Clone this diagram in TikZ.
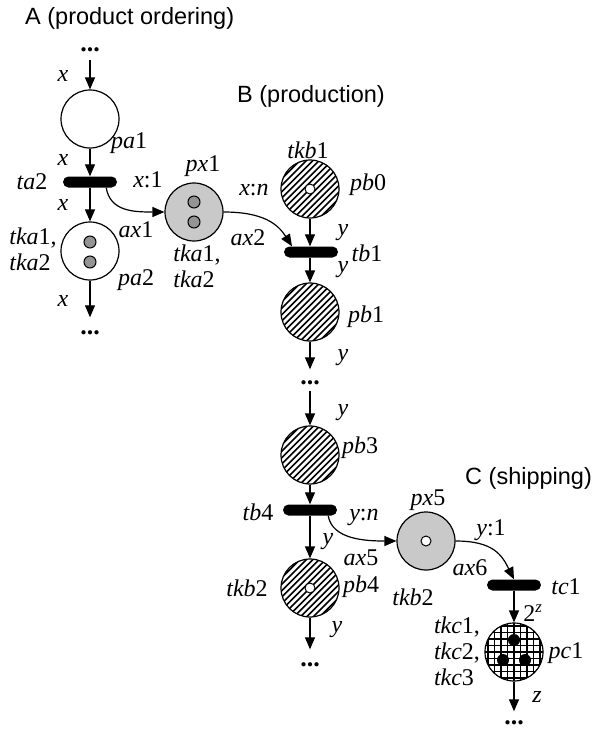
\documentclass[tikz,border=0pt]{standalone}
\usepackage{fontspec}
\setmainfont{Liberation Serif}
\newfontfamily\titlefont{Liberation Sans}
\usetikzlibrary{arrows.meta}
\newcommand{\iv}[1]{\textit{#1}}
\definecolor{placegray}{gray}{0.79}
\definecolor{tokengray}{gray}{0.58}
\tikzset{
  every node/.style={font=\fontsize{24}{26}\selectfont},
  place/.style={circle, draw, line width=1.2pt, minimum size=58pt, inner sep=0pt},
  whiteplace/.style={place, fill=white},
  grayplace/.style={place, fill=placegray},
  hatchplace/.style={place, path picture={
      \foreach \d in {-64,-57.6,...,64}
        \draw[line width=1.6pt, shift={(path picture bounding box.center)}]
          (\d-40,40) -- (\d+40,-40);}},
  gridplace/.style={place, path picture={
      \foreach \d in {-39,-32.5,...,39}{
        \draw[line width=1.3pt, shift={(path picture bounding box.center)}]
          (\d,-40) -- (\d,40) (-40,\d) -- (40,\d);}}},
  trans/.style={rectangle, fill=black, minimum width=54pt, minimum height=11pt,
    inner sep=0pt, rounded corners=5.5pt},
  arc/.style={line width=1.2pt, -{Triangle[length=12pt,width=10pt]}},
  lbl/.style={inner sep=0pt},
  title/.style={inner sep=0pt, anchor=west, font=\titlefont\fontsize{23.5}{26}\selectfont},
  dots/.style={inner sep=0pt, text height=3pt, text depth=0pt, font=\fontsize{26}{26}\selectfont\bfseries},
  graytok/.style={circle, draw, line width=1pt, fill=tokengray, minimum size=12pt, inner sep=0pt},
  whitetok/.style={circle, draw, line width=1pt, fill=white, minimum size=10pt, inner sep=0pt},
  blacktok/.style={circle, fill=black, minimum size=12pt, inner sep=0pt}
}
\begin{document}
\begin{tikzpicture}[x=1pt, y=-1pt]
\useasboundingbox (0,0) rectangle (593,732);

% section titles
\node[title] (tA) at (25,18) {A (product ordering)};
\node[title] (tB) at (237,96) {B (production)};
\node[title] (tC) at (465,478) {C (shipping)};

% ---------- A: product ordering ----------
\node[dots] (dA0) at (90,50) {...};
\node[whiteplace] (pa1) at (90,119) {};
\node[trans] (ta2) at (90,182) {};
\node[whiteplace] (pa2) at (90,251) {};
\node[graytok] (k1) at (90,242) {};
\node[graytok] (k2) at (90,262) {};
\node[dots] (dA1) at (90,333) {...};

\draw[arc] (dA0.south) ++(0,8) -- (pa1.north);
\draw[arc] (pa1) -- (ta2.north);
\draw[arc] (ta2) -- (pa2.north);
\draw[arc, shorten >=14pt] (pa2) -- (dA1.north);

\node[lbl] at (63,76) {\iv{x}};
\node[lbl] at (129,143) {\iv{pa}1};
\node[lbl] at (63,160) {\iv{x}};
\node[lbl] at (32,182) {\iv{ta}2};
\node[lbl] at (148,180) {\iv{x}:1};
\node[lbl] at (63,205) {\iv{x}};
\node[lbl, align=right] at (33,251) {\iv{tka}1,\\\iv{tka}2\phantom{,}};
\node[lbl] at (136,230) {\iv{ax}1};
\node[lbl] at (136,280) {\iv{pa}2};
\node[lbl] at (63,301) {\iv{x}};

% shared place px1
\node[grayplace] (px1) at (194,212) {};
\node[graytok] (k3) at (194,202) {};
\node[graytok] (k4) at (194,222) {};
\node[lbl] at (203,166) {\iv{px}1};
\node[lbl, align=left] at (197,268) {\iv{tka}1,\\\iv{tka}2\phantom{,}};
\node[lbl] at (248,238) {\iv{ax}2};
\node[lbl] at (254,190) {\iv{x}:\iv{n}};

% ---------- B: production ----------
\node[hatchplace] (pb0) at (310,189) {};
\node[whitetok] (k5) at (310,189) {};
\node[trans] (tb1) at (311,252) {};
\node[hatchplace] (pb1) at (310,312) {};
\node[dots] (dB0) at (310,383) {...};
\node[hatchplace] (pb3) at (310,455) {};
\node[trans] (tb4) at (310,510) {};
\node[hatchplace] (pb4) at (310,588) {};
\node[whitetok] (k6) at (310,588) {};
\node[dots] (dB1) at (310,665) {...};

\draw[arc] (pb0) -- (pb0 |- tb1.north);
\draw[arc] (tb1.south -| pb1) -- (pb1.north);
\draw[arc, shorten >=12pt] (pb1) -- (dB0.north);
\draw[arc] (dB0.south) ++(0,6) -- (pb3.north);
\draw[arc] (pb3) -- (pb3 |- tb4.north);
\draw[arc] (tb4.south -| pb4) -- (pb4.north);
\draw[arc, shorten >=14pt] (pb4) -- (dB1.north);

\node[lbl] at (308,150) {\iv{tkb}1};
\node[lbl] at (368,185) {\iv{pb}0};
\node[lbl] at (343,233) {\iv{y}};
\node[lbl] at (367,253) {\iv{tb}1};
\node[lbl] at (343,270) {\iv{y}};
\node[lbl] at (366,317) {\iv{pb}1};
\node[lbl] at (343,358) {\iv{y}};
\node[lbl] at (343,413) {\iv{y}};
\node[lbl] at (360,448) {\iv{pb}3};
\node[lbl] at (258,512) {\iv{tb}4};
\node[lbl] at (364,517) {\iv{y}:\iv{n}};
\node[lbl] at (328,542) {\iv{y}};
\node[lbl] at (361,558) {\iv{ax}5};
\node[lbl] at (247,588) {\iv{tkb}2};
\node[lbl] at (361,587) {\iv{pb}4};
\node[lbl] at (337,630) {\iv{y}};

% shared place px5
\node[grayplace] (px5) at (426,541) {};
\node[whitetok] (k7) at (426,541) {};
\node[lbl] at (428,500) {\iv{px}5};
\node[lbl] at (413,597) {\iv{tkb}2};
\node[lbl] at (491,530) {\iv{y}:1};
\node[lbl] at (470,568) {\iv{ax}6};

% ---------- C: shipping ----------
\node[trans] (tc1) at (514,585) {};
\node[gridplace] (pc1) at (514,652) {};
\node[blacktok] (k8) at (514,640) {};
\node[blacktok] (k9) at (503,660) {};
\node[blacktok] (k10) at (525,660) {};
\node[dots] (dC1) at (514,723) {...};

\draw[arc] (tc1) -- (pc1.north);
\draw[arc, shorten >=10pt] (pc1) -- (dC1.north);

\node[lbl] at (566,587) {\iv{tc}1};
\node[lbl] at (533,613) {2\textsuperscript{\iv{z}}};
\node[lbl] at (566,653) {\iv{pc}1};
\node[lbl, align=left] at (457,653) {\iv{tkc}1,\\\iv{tkc}2,\\\iv{tkc}3\phantom{,}};
\node[lbl] at (537,697) {\iv{z}};

% arcs between the sections
\draw[arc] ([xshift=-11pt]ta2.south east) .. controls +(4,24) and +(-30,0) .. (px1.west);
\draw[arc] (px1.east) .. controls +(40,0) and +(-14,-22) .. ([xshift=-19pt]tb1.north);
\draw[arc] ([xshift=-9pt]tb4.south east) .. controls +(4,24) and +(-30,0) .. (px5.west);
\draw[arc] (px5.east) .. controls +(38,0) and +(-12,-24) .. (tc1.north);
\end{tikzpicture}
\end{document}
